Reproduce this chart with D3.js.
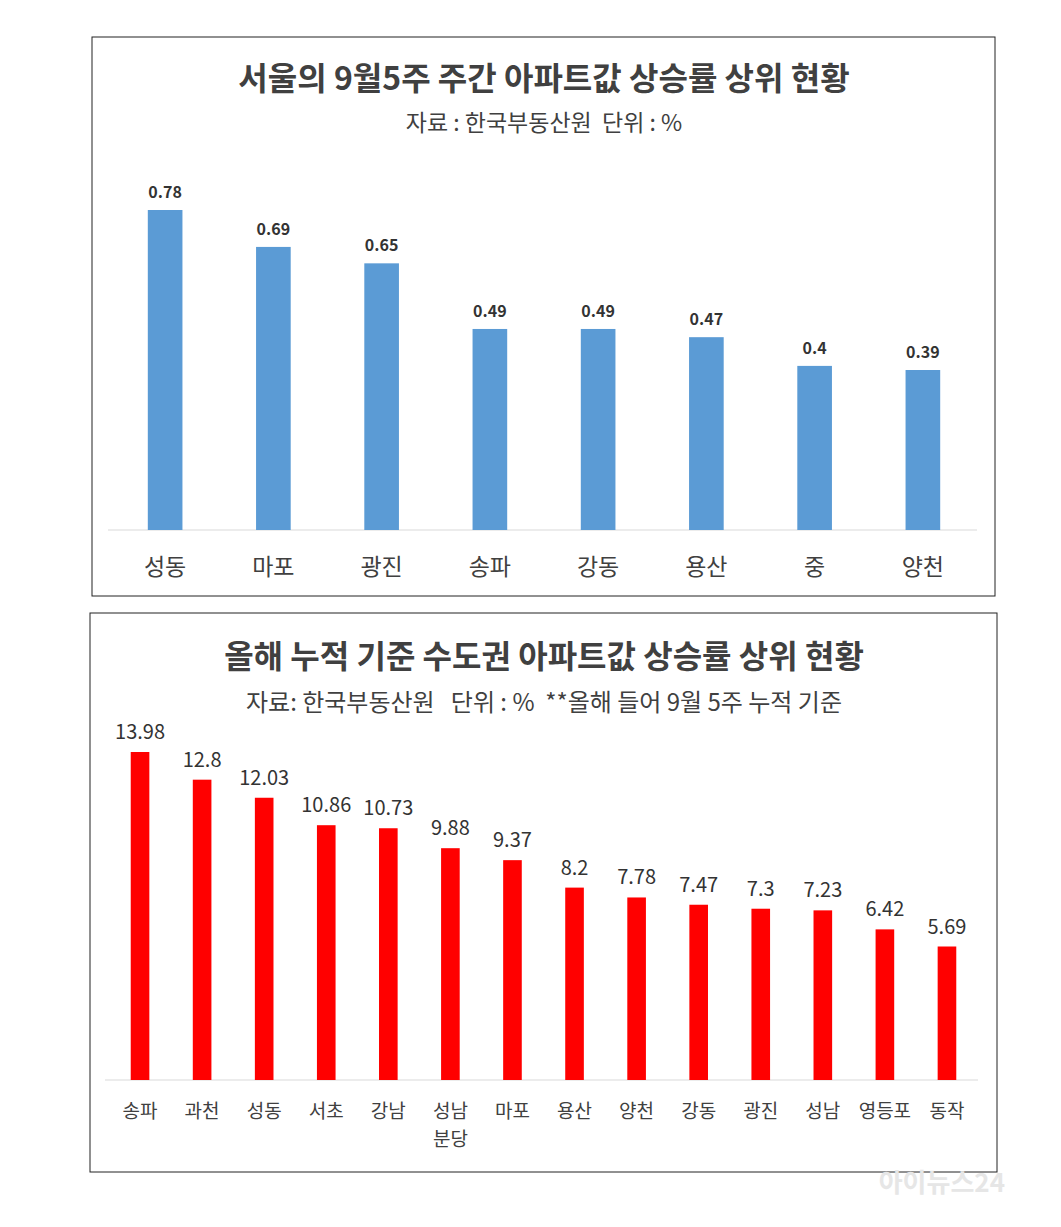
<!DOCTYPE html>
<html><head><meta charset="utf-8">
<script src="https://cdn.jsdelivr.net/npm/d3@7"></script>
<style>body{margin:0;background:#fff}svg text{font-family:"Noto Sans CJK KR","Noto Sans",sans-serif}</style>
</head><body><svg id="c" width="1061" height="1227"></svg>
<script>
const weekCats = ['성동','마포','광진','송파','강동','용산','중','양천'];
const weekVals = [0.78,0.69,0.65,0.49,0.49,0.47,0.4,0.39];
const yearCats = ['송파','과천','성동','서초','강남','성남\n분당','마포','용산','양천','강동','광진','성남','영등포','동작'];
const yearVals = [13.98,12.8,12.03,10.86,10.73,9.88,9.37,8.2,7.78,7.47,7.3,7.23,6.42,5.69];

const svg = d3.select('#c');

function panel(o) {
    svg.append('rect').attr('x', o.box[0]).attr('y', o.box[1]).attr('width', o.box[2]).attr('height', o.box[3])
        .attr('fill', 'none').attr('stroke', '#222').attr('stroke-width', 1);
    svg.append('text').attr('x', o.cx).attr('y', o.titleY).attr('text-anchor', 'middle')
        .attr('font-size', 32).attr('font-weight', 'bold').attr('fill', '#404040').text(o.title);
    svg.append('text').attr('x', o.cx).attr('y', o.subY).attr('text-anchor', 'middle')
        .attr('font-size', o.subSize).attr('fill', '#404040').attr('xml:space', 'preserve').text(o.sub);

    let x = d3.scaleBand().domain(o.cats).range(o.xr).paddingInner(o.pad).paddingOuter(o.pad / 2);
    let y = d3.scaleLinear().domain([0, o.ymax]).range([o.base, o.top]);
    let g = svg.append('g');
    g.append('line').attr('x1', o.axis[0]).attr('x2', o.axis[1]).attr('y1', o.base).attr('y2', o.base)
        .attr('stroke', '#d9d9d9');
    g.selectAll('rect.b').data(o.vals).enter().append('rect').attr('class', 'b')
        .attr('x', (d, i) => x(o.cats[i])).attr('width', x.bandwidth())
        .attr('y', d => y(d)).attr('height', d => o.base - y(d)).attr('fill', o.color);
    g.selectAll('text.v').data(o.vals).enter().append('text').attr('class', 'v')
        .attr('x', (d, i) => x(o.cats[i]) + x.bandwidth() / 2).attr('y', d => y(d) - o.lblGap)
        .attr('text-anchor', 'middle').attr('font-size', o.lblSize).attr('font-weight', o.lblWeight)
        .attr('fill', '#333').text(d => d);
    o.cats.forEach(c => {
        let t = g.append('text').attr('x', x(c) + x.bandwidth() / 2).attr('y', o.catY)
            .attr('text-anchor', 'middle').attr('font-size', o.catSize).attr('fill', '#404040');
        c.split('\n').forEach((s, i) => t.append('tspan').attr('x', x(c) + x.bandwidth() / 2)
            .attr('dy', i ? o.catSize * 1.45 : 0).text(s));
    });
}

panel({box: [92, 37, 903, 559], cx: 544, titleY: 90, subY: 131, subSize: 23,
    title: '서울의 9월5주 주간 아파트값 상승률 상위 현황', sub: '자료 : 한국부동산원  단위 : %',
    cats: weekCats, vals: weekVals, xr: [111, 977], pad: 0.68, ymax: 0.78, base: 530, top: 210,
    axis: [108, 977], color: '#5b9bd5', lblGap: 12, lblSize: 16, lblWeight: 'bold', catY: 575, catSize: 23});

panel({box: [90, 613, 907, 559], cx: 544, titleY: 668, subY: 711, subSize: 24,
    title: '올해 누적 기준 수도권 아파트값 상승률 상위 현황', sub: '자료: 한국부동산원   단위 : %  **올해 들어 9월 5주 누적 기준',
    cats: yearCats, vals: yearVals, xr: [109, 978], pad: 0.7, ymax: 13.98, base: 1080, top: 752,
    axis: [105, 978], color: '#ff0000', lblGap: 13, lblSize: 20, lblWeight: 'normal', catY: 1118, catSize: 19});

svg.append('text').attr('x', 1005).attr('y', 1192).attr('text-anchor', 'end').attr('font-size', 26)
    .attr('font-weight', 'bold').attr('fill', '#e6e6e6').text('아이뉴스24');
</script></body></html>
